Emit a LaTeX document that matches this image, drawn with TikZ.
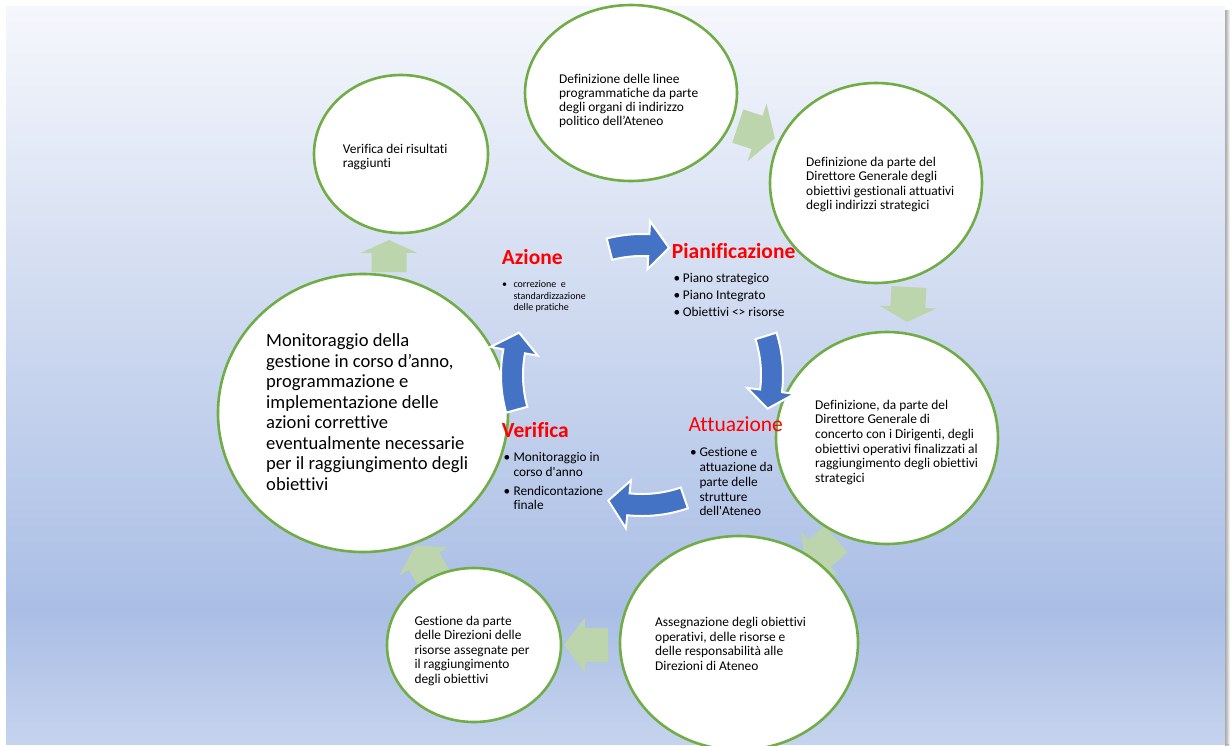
\documentclass[tikz,border=0pt]{standalone}
\usepackage{fontspec}
\setmainfont{Carlito}[Ligatures={TeX,NoCommon}]
\usetikzlibrary{shapes.geometric}

\definecolor{bgtop}{RGB}{245,247,252}
\definecolor{bgmid}{RGB}{170,190,229}
\definecolor{bgbot}{RGB}{197,211,237}
\definecolor{stagegreen}{RGB}{112,173,71}
\definecolor{arrowgreen}{RGB}{189,213,173}
\definecolor{cycleblue}{RGB}{68,114,196}
\definecolor{phasered}{RGB}{255,0,0}

\newcommand\textlines[1]{\begin{tabular}[t]{@{}l@{}}#1\end{tabular}}

% curved blue arrow on the inner cycle: tail angle, head base angle, tip angle
\newcommand\innerarrow[4]{%
  \filldraw[cyclearrow, shift={(642,375)}]
    (#1:141) arc[start angle=#1, end angle=#2, radius=141]
    -- (#2:154) -- (#3:130) -- (#2:106) -- (#2:119)
    arc[start angle=#2, end angle=#1, radius=119] -- cycle;
  \coordinate (#4) at ([shift={(642,375)}]#3:130);
}

\tikzset{
  stage/.style={ellipse, draw=stagegreen, line width=2.6pt, fill=white, inner sep=0pt},
  circtext/.style={anchor=base west, inner sep=0pt, text=black,
    font=\fontsize{13.4}{14.6}\selectfont},
  bigtext/.style={anchor=base west, inner sep=0pt, text=black,
    font=\fontsize{18.6}{20.5}\selectfont},
  phase/.style={anchor=base west, inner sep=0pt, text=phasered,
    font=\fontsize{21.5}{24}\selectfont},
  bultext/.style={anchor=base west, inner sep=0pt, text=black,
    font=\fontsize{13.3}{14.8}\selectfont},
  smalltext/.style={anchor=base west, inner sep=0pt, text=black,
    font=\fontsize{10}{11.7}\selectfont},
  cyclearrow/.style={fill=cycleblue, draw=white, line width=2pt, line join=miter},
  pics/blockarrow/.style args={#1/#2/#3/#4}{% length / head length / body width / head width
    code={\fill[arrowgreen]
      ({-#1/2},{-#3/2}) -- ({#1/2-#2},{-#3/2}) -- ({#1/2-#2},{-#4/2})
      -- ({#1/2},0) -- ({#1/2-#2},{#4/2}) -- ({#1/2-#2},{#3/2})
      -- ({-#1/2},{#3/2}) -- cycle;}
  }
}

\begin{document}
\begin{tikzpicture}[x=1pt,y=-1pt]
\useasboundingbox (0,0) rectangle (1232,745);

% slide background with its drop shadow
\fill[left color=black!35, right color=white] (1225,10) rectangle (1230,745);
\fill[gray!60] (10,744) rectangle (1229,745);
\fill[top color=bgtop, bottom color=bgmid] (6,6) rectangle (1225,610.5);
\fill[top color=bgmid, bottom color=bgbot] (6,610) rectangle (1225,744);

% pale green step arrows between the stages
\pic[rotate=-18.3] at (756.3,132.2) {blockarrow={39/18.7/35/60.6}};
\pic[rotate=-93] at (908,304.5) {blockarrow={35/15/35/57}};
\pic[rotate=-140] at (821,552) {blockarrow={40/18/35/58}};
\pic[rotate=180] at (586,645) {blockarrow={44/21/34/55}};
\pic[rotate=120] at (425,563) {blockarrow={40/18/35/57}};
\pic[rotate=90] at (389,256) {blockarrow={32/13/35/57}};

% stages of the cycle
\node[stage, minimum width=212, minimum height=176] (linee) at (631,93) {};
\node[stage, minimum width=212, minimum height=200] (gestionali) at (876,183) {};
\node[stage, minimum width=222, minimum height=212] (operativi) at (887,438) {};
\node[stage, minimum width=238, minimum height=214] (assegnazione) at (739,643) {};
\node[stage, minimum width=174, minimum height=154] (gestione) at (474,645) {};
\node[stage, minimum width=290, minimum height=278] (monitoraggio) at (363,413) {};
\node[stage, minimum width=174, minimum height=158] (risultati) at (401,154) {};

% texts of the stages
\node[circtext, font=\fontsize{13.4}{14}\selectfont] (tlinee) at (559,83.3)
  {\textlines{Definizione delle linee\\programmatiche da parte\\degli organi di indirizzo\\politico dell’Ateneo}};
\node[circtext] (tgestionali) at (806,166)
  {\textlines{Definizione da parte del\\Direttore Generale degli\\obiettivi gestionali attuativi\\degli indirizzi strategici}};
\node[circtext] (toperativi) at (815,409.3)
  {\textlines{Definizione, da parte del\\Direttore Generale di\\concerto con i Dirigenti, degli\\obiettivi operativi finalizzati al\\raggiungimento degli obiettivi\\strategici}};
\node[circtext] (tassegnazione) at (655,626.7)
  {\textlines{Assegnazione degli obiettivi\\operativi, delle risorse e\\delle responsabilità alle\\Direzioni di Ateneo}};
\node[circtext] (tgestione) at (414.3,625)
  {\textlines{Gestione da parte\\delle Direzioni delle\\risorse assegnate per\\il raggiungimento\\degli obiettivi}};
\node[circtext] (trisultati) at (342.7,153.3)
  {\textlines{Verifica dei risultati\\raggiunti}};
\node[bigtext] (tmonitoraggio) at (266,346.7)
  {\textlines{Monitoraggio della\\gestione in corso d’anno,\\programmazione e\\implementazione delle\\azioni correttive\\eventualmente necessarie\\per il raggiungimento degli\\obiettivi}};

% inner PDCA cycle
\innerarrow{-104.5}{-87}{-78}{tipP}
\innerarrow{-17.5}{7}{15}{tipA}
\innerarrow{71}{96}{105}{tipV}
\innerarrow{164.5}{190.5}{199}{tipZ}

% Azione
\node[phase, font=\bfseries\fontsize{21.5}{24}\selectfont] (azione) at (501.7,264.5) {Azione};
\node[smalltext] (bz) at (502,287.3) {\textbullet};
\node[smalltext] (tz) at (513.3,287.3) {\textlines{correzione\ \ e\\standardizzazione\\delle pratiche}};

% Pianificazione
\node[phase, font=\bfseries\fontsize{21.5}{24}\selectfont] (pianificazione) at (671.7,258.3) {Pianificazione};
\node[bultext] (bp1) at (673.5,282.7) {\textbullet};
\node[bultext] (tp1) at (682.7,282.7) {Piano strategico};
\node[bultext] (bp2) at (673.5,299.5) {\textbullet};
\node[bultext] (tp2) at (682.7,299.5) {Piano Integrato};
\node[bultext] (bp3) at (673.5,316.5) {\textbullet};
\node[bultext] (tp3) at (682.7,316.5) {Obiettivi <> risorse};

% Attuazione
\node[phase] (attuazione) at (688.3,431.7) {Attuazione};
\node[bultext] (ba) at (690,456.7) {\textbullet};
\node[bultext] (ta) at (699.3,456.7)
  {\textlines{Gestione e\\attuazione da\\parte delle\\strutture\\dell\textquotesingle Ateneo}};

% Verifica
\node[phase, font=\bfseries\fontsize{21.5}{24}\selectfont] (verifica) at (501.7,437.3) {Verifica};
\node[bultext] (bv1) at (503.5,461.7) {\textbullet};
\node[bultext, font=\fontsize{13.3}{15}\selectfont] (tv1) at (513.3,461.7)
  {\textlines{Monitoraggio in\\corso d\textquotesingle anno}};
\node[bultext] (bv2) at (503.5,495) {\textbullet};
\node[bultext, font=\fontsize{13.3}{14.3}\selectfont] (tv2) at (513.3,495)
  {\textlines{Rendicontazione\\finale}};

\end{tikzpicture}
\end{document}
